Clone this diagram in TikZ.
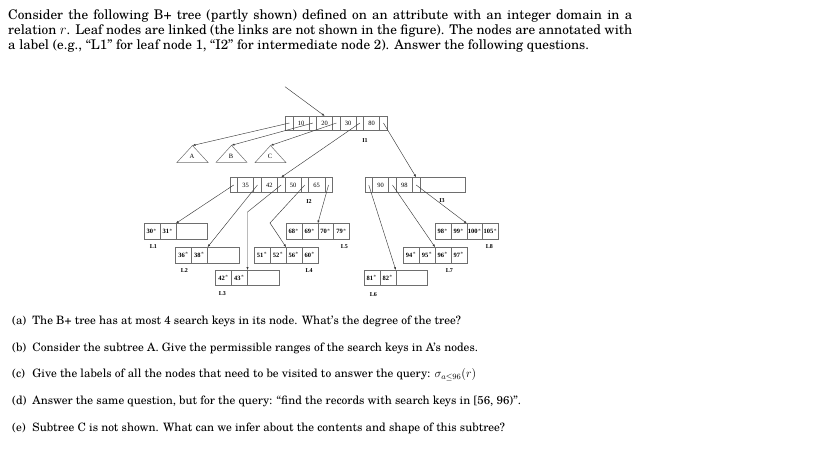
\documentclass[tikz,border=0pt]{standalone}
\usepackage{amsmath}
\usepackage{fontspec}
\setmainfont{TeX Gyre Schola}
\newfontfamily\treefont{Liberation Serif}
\usepackage{xcolor}
\usetikzlibrary{arrows.meta, positioning}

\definecolor{cellgray}{HTML}{6E6E6E}
\definecolor{linkgray}{HTML}{3C3C3C}

\begin{document}
\begin{tikzpicture}[
            x=1pt, y=-1pt,                      % coordenadas en pixeles de la figura
            node distance=0pt,
            cell/.style={
                rectangle,
                draw=cellgray,
                line width=0.5pt,
                inner sep=0pt,
                outer sep=0pt,
                minimum height=14pt,
                font=\treefont\fontsize{6.5}{7}\selectfont
            },
            ptr/.style={cell, minimum width=7.5pt},
            key/.style={cell, minimum width=16pt},
            iptr/.style={ptr, minimum height=15.4pt},
            ikey/.style={cell, minimum width=16.2pt, minimum height=15.4pt},
            leaf/.style={
                cell,
                minimum width=15.9pt,
                minimum height=15.6pt,
                font=\treefont\bfseries\fontsize{6.5}{7}\selectfont
            },
            lbl/.style={font=\treefont\bfseries\fontsize{6}{7}\selectfont, inner sep=0pt},
            tri/.style={draw=cellgray, line width=0.5pt},
            link/.style={
                draw=linkgray,
                line width=0.45pt,
                -{Latex[length=3pt, width=2.2pt]}
            },
            txt/.style={anchor=base west, inner sep=0pt, font=\fontsize{13.3}{15}\selectfont},
            qtxt/.style={anchor=base west, inner sep=0pt, font=\fontsize{11.55}{13}\selectfont}
        ]
            \useasboundingbox (0,0) rectangle (819,460);

            % --- ENUNCIADO (justificado) ---
            \node [txt] (intro1) at (8,19.5) {\hbox to 624pt{Consider the following B+ tree (partly shown) defined on an attribute with an integer domain in a}};
            \node [txt] (intro2) at (8,34.5) {\hbox to 624pt{relation $r$. Leaf nodes are linked (the links are not shown in the figure). The nodes are annotated with}};
            \node [txt] (intro3) at (8,49.5) {a label (e.g., “L1” for leaf node 1, “I2” for intermediate node 2). Answer the following questions.};

            % --- NODO I1 ---
            \node [ptr, anchor=west] (i1p0) at (285.7,123) {};
            \node [key, right=of i1p0] (i1k1) {10};
            \node [ptr, right=of i1k1] (i1p1) {};
            \node [key, right=of i1p1] (i1k2) {20};
            \node [ptr, right=of i1k2] (i1p2) {};
            \node [key, right=of i1p2] (i1k3) {30};
            \node [ptr, right=of i1k3] (i1p3) {};
            \node [key, right=of i1p3] (i1k4) {80};
            \node [ptr, right=of i1k4] (i1p4) {};
            \node [lbl] (labI1) at (365,141) {I1};
            \coordinate (root) at (285,86.7);

            % --- SUBARBOLES A, B, C ---
            \coordinate (aTop) at (192.5,145.5);
            \coordinate (bTop) at (231.5,145.3);
            \coordinate (cTop) at (270.5,145.5);
            \draw [tri] (aTop) -- ++(-15.6,17) -- ++(31.2,0) -- cycle;
            \draw [tri] (bTop) -- ++(-15.4,17) -- ++(30.8,0) -- cycle;
            \draw [tri] (cTop) -- ++(-15.4,17) -- ++(30.8,0) -- cycle;
            \node [lbl, font=\treefont\fontsize{6.5}{7}\selectfont] (subA) at (192,156) {A};
            \node [lbl, font=\treefont\fontsize{6.5}{7}\selectfont] (subB) at (231,156) {B};
            \node [lbl, font=\treefont\fontsize{6.5}{7}\selectfont] (subC) at (270,156) {C};

            % --- NODO I2 ---
            \node [iptr, anchor=west] (i2p0) at (230,185) {};
            \node [ikey, right=of i2p0] (i2k1) {35};
            \node [iptr, right=of i2k1] (i2p1) {};
            \node [ikey, right=of i2p1] (i2k2) {42};
            \node [iptr, right=of i2k2] (i2p2) {};
            \node [ikey, right=of i2p2] (i2k3) {50};
            \node [iptr, right=of i2k3] (i2p3) {};
            \node [ikey, right=of i2p3] (i2k4) {65};
            \node [iptr, right=of i2k4] (i2p4) {};
            \node [lbl] (labI2) at (309,202) {I2};

            % --- NODO I3 ---
            \node [iptr, anchor=west] (i3p0) at (365,185) {};
            \node [ikey, right=of i3p0] (i3k1) {90};
            \node [iptr, right=of i3k1] (i3p1) {};
            \node [ikey, right=of i3p1] (i3k2) {98};
            \node [iptr, right=of i3k2] (i3p2) {};
            \node [ikey, right=of i3p2, minimum width=45.1pt] (i3rest) {};
            \node [lbl] (labI3) at (442,201) {I3};

            % --- HOJAS ---
            \node [leaf, anchor=west] (l1a) at (144,231.2) {30$^*$};
            \node [leaf, right=of l1a] (l1b) {31$^*$};
            \node [leaf, right=of l1b, minimum width=31.8pt] (l1c) {};
            \node [lbl] (labL1) at (153.3,246.7) {L1};

            \node [leaf, anchor=west] (l2a) at (175.7,255) {36$^*$};
            \node [leaf, right=of l2a] (l2b) {38$^*$};
            \node [leaf, right=of l2b, minimum width=31.8pt] (l2c) {};
            \node [lbl] (labL2) at (184.3,270.7) {L2};

            \node [leaf, anchor=west] (l3a) at (215.7,277.9) {42$^*$};
            \node [leaf, right=of l3a] (l3b) {43$^*$};
            \node [leaf, right=of l3b, minimum width=31.8pt] (l3c) {};
            \node [lbl] (labL3) at (222.3,294) {L3};

            \node [leaf, anchor=west] (l4a) at (254.3,255) {51$^*$};
            \node [leaf, right=of l4a] (l4b) {52$^*$};
            \node [leaf, right=of l4b] (l4c) {56$^*$};
            \node [leaf, right=of l4c] (l4d) {60$^*$};
            \node [lbl] (labL4) at (309,270.7) {L4};

            \node [leaf, anchor=west] (l5a) at (286,231.2) {68$^*$};
            \node [leaf, right=of l5a] (l5b) {69$^*$};
            \node [leaf, right=of l5b] (l5c) {70$^*$};
            \node [leaf, right=of l5c] (l5d) {79$^*$};
            \node [lbl] (labL5) at (344.3,246.7) {L5};

            \node [leaf, anchor=west] (l6a) at (364,277.9) {81$^*$};
            \node [leaf, right=of l6a] (l6b) {82$^*$};
            \node [leaf, right=of l6b, minimum width=31.8pt] (l6c) {};
            \node [lbl] (labL6) at (373.3,294.3) {L6};

            \node [leaf, anchor=west] (l7a) at (403.3,255) {94$^*$};
            \node [leaf, right=of l7a] (l7b) {95$^*$};
            \node [leaf, right=of l7b] (l7c) {96$^*$};
            \node [leaf, right=of l7c] (l7d) {97$^*$};
            \node [lbl] (labL7) at (449.3,270.7) {L7};

            \node [leaf, anchor=west] (l8a) at (435,231.2) {98$^*$};
            \node [leaf, right=of l8a] (l8b) {99$^*$};
            \node [leaf, right=of l8b] (l8c) {100$^*$};
            \node [leaf, right=of l8c] (l8d) {105$^*$};
            \node [lbl] (labL8) at (489.3,246.7) {L8};

            % --- ENLACES ---
            \coordinate (l3bend) at (247.5,212);
            \coordinate (l4bend) at (270,223);
            \path [link] (root) -- (i1k2.north);
            \path [link] (i1p0.center) -- (aTop);
            \path [link] (i1p1.center) -- (bTop);
            \path [link] (i1p2.center) -- (cTop);
            \path [link] (i1p3.center) -- (i2p2.north);
            \path [link] (i1p4.center) -- (i3p2.north);
            \path [link] (i2p0.center) -- (l1b.north east);
            \path [link] (i2p1.center) -- (l2b.north east);
            \path [link] (i2p2.center) -- (l3bend) -- (l3b.north east);
            \path [link] (i2p3.center) -- (l4bend) -- (l4b.north east);
            \path [link] (i2p4.center) -- (l5b.north east);
            \path [link] (i3p0.center) -- (l6b.north east);
            \path [link] (i3p1.center) -- (l7b.north east);
            \path [link] (i3p2.center) -- (l8b.north east);

            % --- PREGUNTAS ---
            \node [qtxt] (qa) at (12,324.3) {\makebox[20.3pt][l]{(a)}The B+ tree has at most 4 search keys in its node. What’s the degree of the tree?};
            \node [qtxt] (qb) at (12,351) {\makebox[20.3pt][l]{(b)}Consider the subtree A. Give the permissible ranges of the search keys in A’s nodes.};
            \node [qtxt] (qc) at (12,377.7) {\makebox[20.3pt][l]{(c)}Give the labels of all the nodes that need to be visited to answer the query: $\sigma_{a\leq 96}(r)$};
            \node [qtxt] (qd) at (12,404.3) {\makebox[20.3pt][l]{(d)}Answer the same question, but for the query: “find the records with search keys in [56, 96)”.};
            \node [qtxt] (qe) at (12,431) {\makebox[20.3pt][l]{(e)}Subtree C is not shown. What can we infer about the contents and shape of this subtree?};
        \end{tikzpicture}
\end{document}
